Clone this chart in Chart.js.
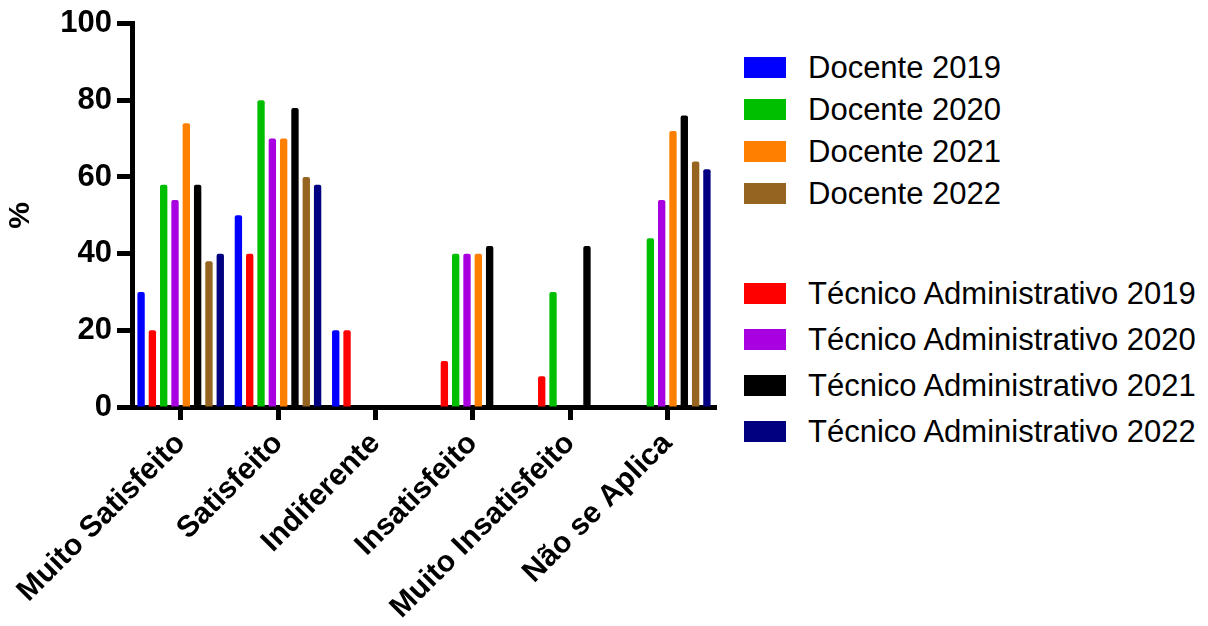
<!DOCTYPE html>
<html>
<head>
<meta charset="utf-8">
<script src="https://cdn.jsdelivr.net/npm/chart.js@4.4.1/dist/chart.umd.min.js"></script>
<style>
  html, body { margin: 0; padding: 0; background: #fff; }
  #wrap { position: relative; width: 1208px; height: 626px; overflow: hidden; font-family: "Liberation Sans", Arial, sans-serif; }
  #chartBox { position: absolute; left: 0; top: 0; width: 731px; height: 626px; }
  .legBlock { position: absolute; left: 744px; display: flex; flex-direction: column; }
  .legItem { display: flex; align-items: center; height: 42px; }
  .legBlock.b2 .legItem { height: 46px; }
  .sw { width: 42px; height: 21px; margin-right: 22px; flex: none; }
  .lt { font-size: 31px; color: #000; white-space: nowrap; line-height: 1; }
</style>
</head>
<body>
<div id="wrap">
  <div id="chartBox"><canvas id="c"></canvas></div>
  <div id="leg1" class="legBlock" style="top:46px"></div>
  <div id="leg2" class="legBlock b2" style="top:270px"></div>
</div>
<script>
const categories = ["Muito Satisfeito", "Satisfeito", "Indiferente", "Insatisfeito", "Muito Insatisfeito", "Não se Aplica"];
const yTicks = [0, 20, 40, 60, 80, 100];

const docente2019 = [30, 50, 20, 0, 0, 0];
const tecnico2019 = [20, 40, 20, 12, 8, 0];
const docente2020 = [58, 80, 0, 40, 30, 44];
const tecnico2020 = [54, 70, 0, 40, 0, 54];
const docente2021 = [74, 70, 0, 40, 0, 72];
const tecnico2021 = [58, 78, 0, 42, 42, 76];
const docente2022 = [38, 60, 0, 0, 0, 64];
const tecnico2022 = [40, 58, 0, 0, 0, 62];

const seriesNames = ["Docente 2019", "Técnico Administrativo 2019", "Docente 2020", "Técnico Administrativo 2020",
                     "Docente 2021", "Técnico Administrativo 2021", "Docente 2022", "Técnico Administrativo 2022"];
const seriesValues = [docente2019, tecnico2019, docente2020, tecnico2020, docente2021, tecnico2021, docente2022, tecnico2022];
const seriesColors = ["#0000FF", "#FF0000", "#00BF00", "#A800E0", "#FF8000", "#000000", "#966421", "#000080"];

const legendGroup1 = ["Docente 2019", "Docente 2020", "Docente 2021", "Docente 2022"];
const legendGroup2 = ["Técnico Administrativo 2019", "Técnico Administrativo 2020", "Técnico Administrativo 2021", "Técnico Administrativo 2022"];

const FONT = '"Liberation Sans", Arial, sans-serif';

const datasets = seriesNames.map((name, i) => ({
  label: name,
  data: seriesValues[i],
  backgroundColor: seriesColors[i],
  borderWidth: 0,
  borderRadius: { topLeft: 2, topRight: 2, bottomLeft: 0, bottomRight: 0 },
  borderSkipped: 'bottom',
  barPercentage: 0.65,
  categoryPercentage: 0.93
}));

const chart = new Chart(document.getElementById('c'), {
  type: 'bar',
  data: { labels: categories, datasets },
  options: {
    responsive: true,
    maintainAspectRatio: false,
    animation: false,
    layout: { padding: { top: 20, right: 15, left: 0, bottom: 0 } },
    plugins: { legend: { display: false }, tooltip: { enabled: false } },
    scales: {
      x: {
        z: 1,
        offset: true,
        grid: { display: true, offset: false, drawOnChartArea: false, drawTicks: true, tickLength: 13, tickWidth: 5, tickColor: '#000' },
        border: { display: true, color: '#000', width: 5 },
        ticks: {
          color: '#000', minRotation: 45, maxRotation: 45, autoSkip: false, padding: 6,
          font: { family: FONT, size: 30, weight: 'bold' }
        },
        afterFit: (s) => { s.height = 219; }
      },
      y: {
        z: 1,
        min: 0, max: 100,
        afterBuildTicks: (s) => { s.ticks = yTicks.map(v => ({ value: v })); },
        grid: { display: true, drawOnChartArea: false, drawTicks: true, tickLength: 15, tickWidth: 5, tickColor: '#000' },
        border: { display: true, color: '#000', width: 5 },
        ticks: { color: '#000', padding: 5, font: { family: FONT, size: 31, weight: 'bold' } },
        title: { display: true, text: '%', color: '#000', padding: { top: 3, bottom: 0 }, font: { family: FONT, size: 30, weight: 'bold' } },
        afterFit: (s) => { s.width = 132; }
      }
    }
  }
});

function buildLegend(el, names) {
  names.forEach(n => {
    const i = seriesNames.indexOf(n);
    const item = document.createElement('div');
    item.className = 'legItem';
    const sw = document.createElement('div');
    sw.className = 'sw';
    sw.style.background = chart.data.datasets[i].backgroundColor;
    const t = document.createElement('span');
    t.className = 'lt';
    t.textContent = chart.data.datasets[i].label;
    item.appendChild(sw);
    item.appendChild(t);
    el.appendChild(item);
  });
}
buildLegend(document.getElementById('leg1'), legendGroup1);
buildLegend(document.getElementById('leg2'), legendGroup2);
</script>
</body>
</html>
